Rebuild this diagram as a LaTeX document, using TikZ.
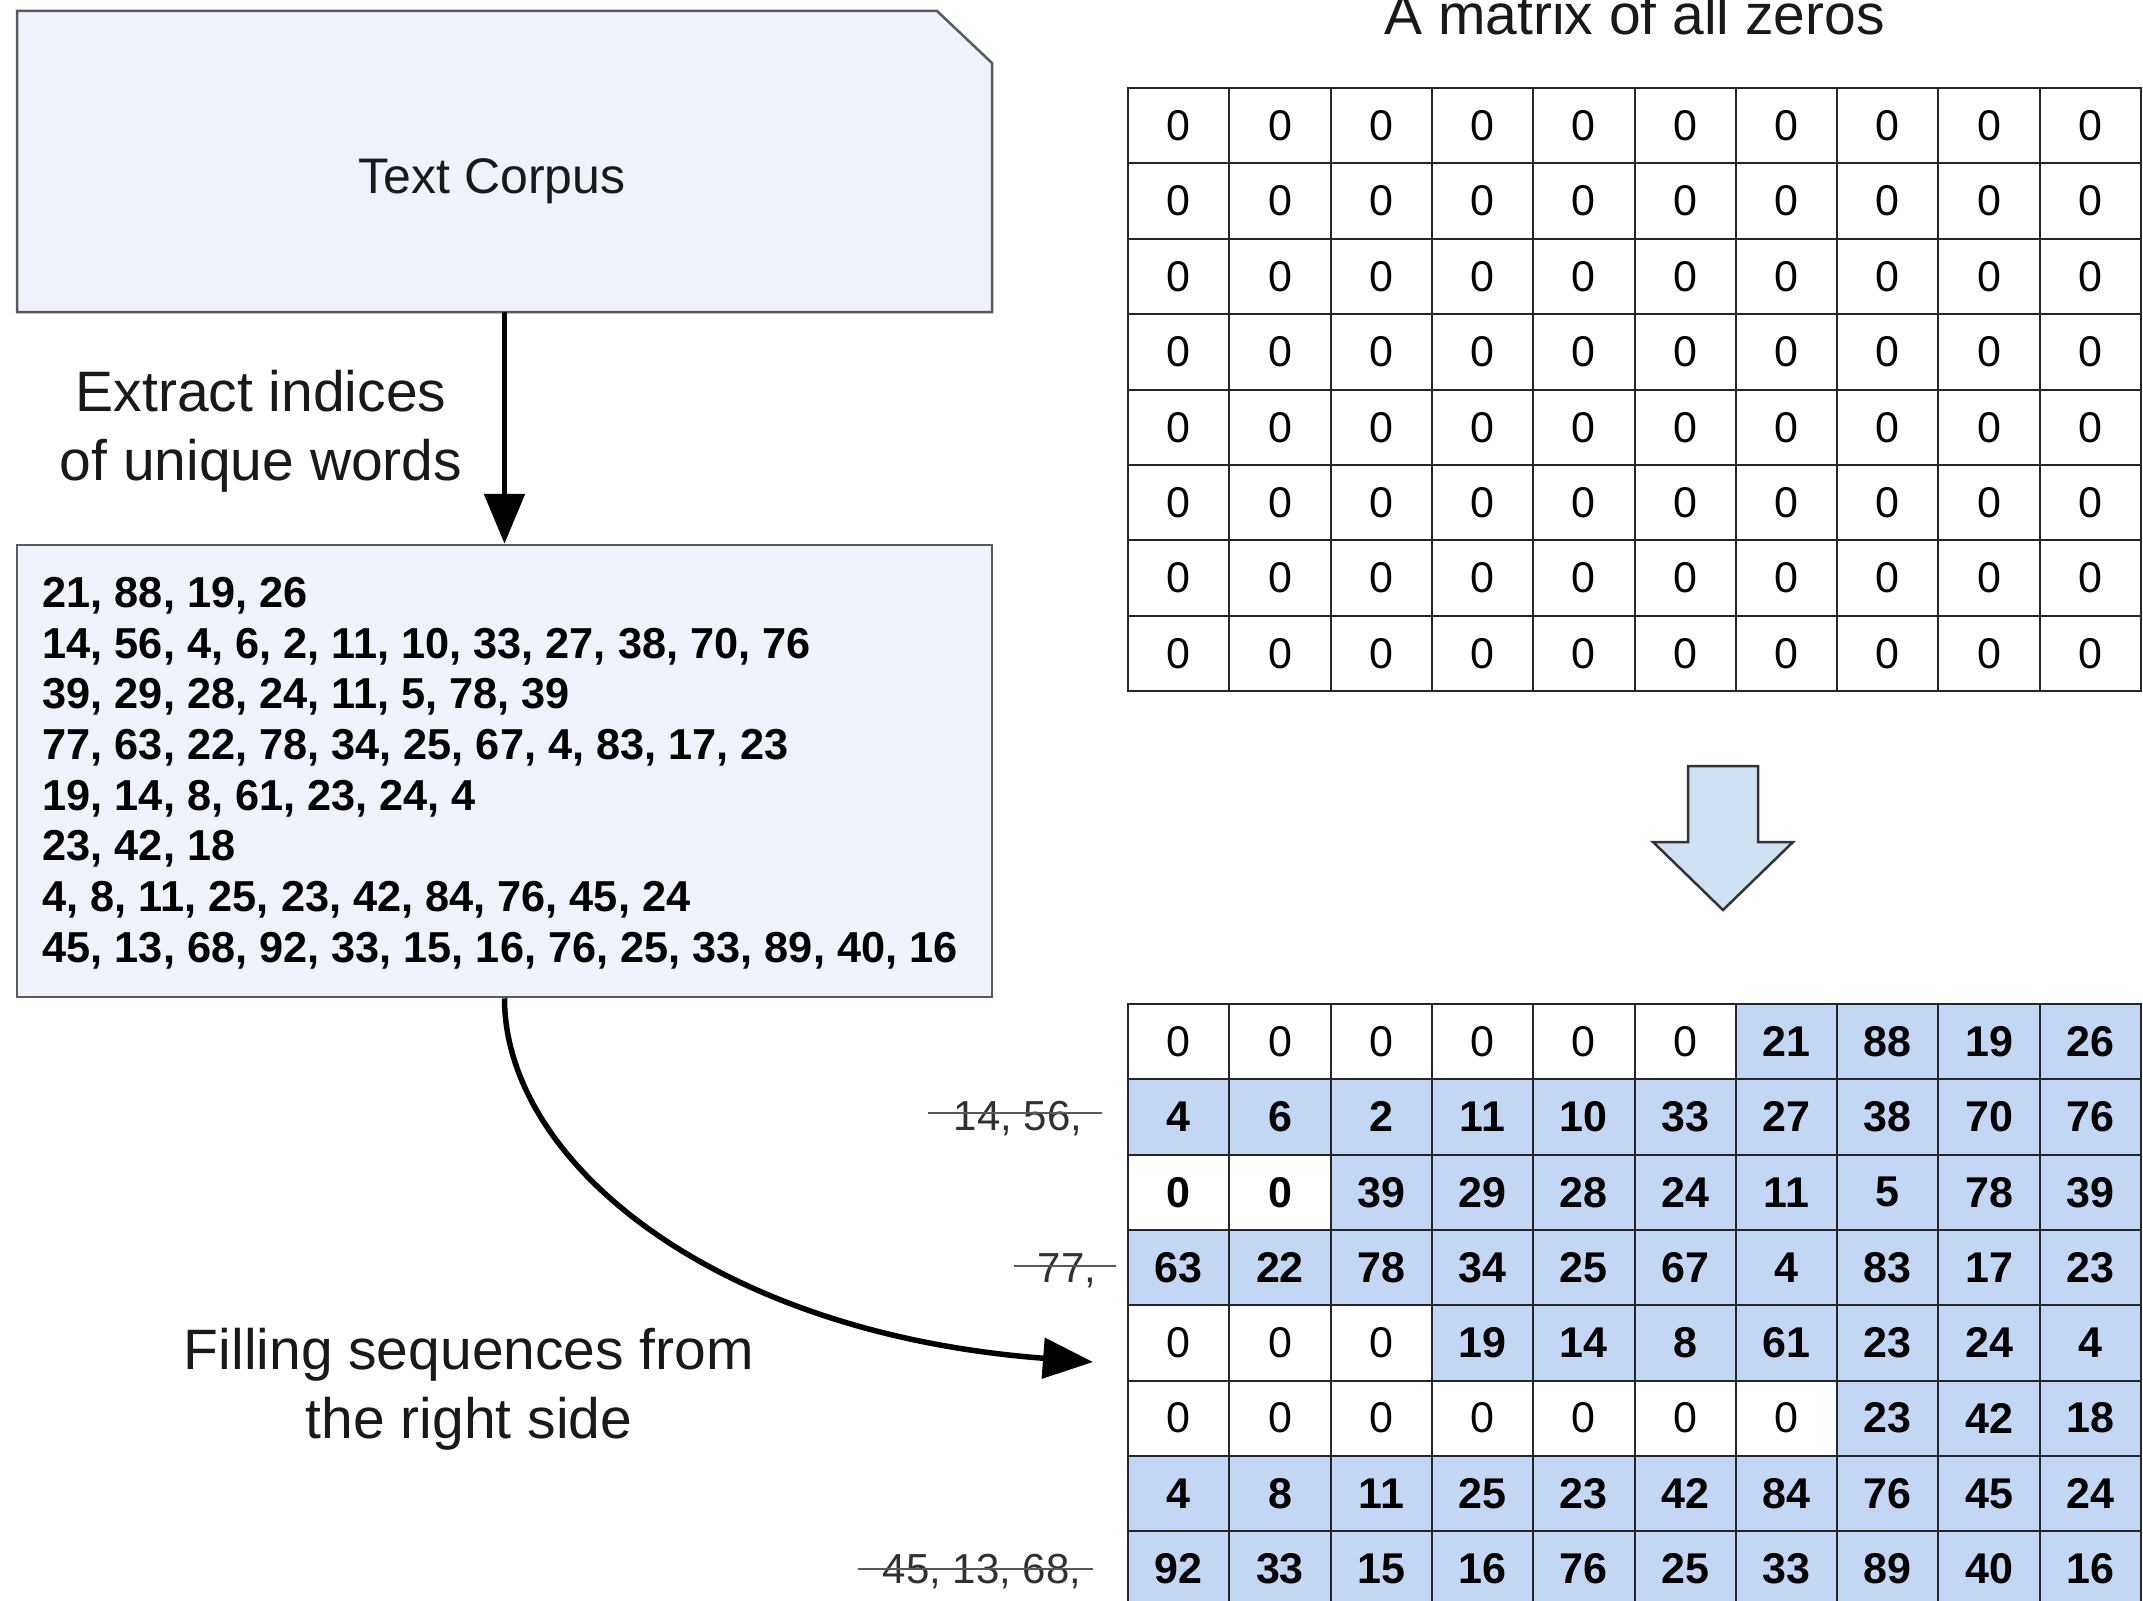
\documentclass[tikz,border=0pt]{standalone}
\usepackage{fontspec}
\setmainfont{Liberation Sans}
\usetikzlibrary{arrows.meta,calc}

\definecolor{boxfill}{HTML}{EEF3FB}
\definecolor{boxline}{HTML}{5A5A5A}
\definecolor{cellblue}{HTML}{C3D6F3}
\definecolor{arrowfill}{HTML}{CFE2F3}
\definecolor{arrowline}{HTML}{333333}
\definecolor{strikegray}{HTML}{303030}

% font of a given size and line spacing (1pt = 1 unit of the picture)
\newcommand\pxfont[2]{\fontsize{#1}{#2}\selectfont}
\def\zchar{z}
\def\Zchar{Z}

\begin{document}
\begin{tikzpicture}[x=1pt,y=-1pt,
  panel/.style={fill=boxfill, draw=boxline, line width=2.5pt},
  caption/.style={font=\pxfont{57}{69}, inner sep=0pt, align=center, text=black!90},
  flow/.style={line width=5.5pt, -{Triangle[length=50pt,width=40pt]}},
  cellbox/.style={draw=black!85, line width=2pt, minimum width=101.3pt,
    minimum height=75.3pt, inner sep=0pt, font=\pxfont{43}{50}},
  filled/.style={cellbox, fill=cellblue, font=\pxfont{43}{50}\bfseries},
  struck/.style={font=\pxfont{42}{50}, text=strikegray, inner sep=0pt, anchor=base},
  strikeline/.style={draw=black!65, line width=2.5pt},
]
\fill[white] (0,0) rectangle (2143,1600);
\useasboundingbox (0,0) rectangle (2143,1600);

% ---- text corpus (card with a cut corner) ----
\path[panel] (17,11) -- (937,11) -- (992,63) -- (992,312) -- (17,312) -- cycle;
\node[inner sep=0pt, minimum width=975pt, minimum height=301pt] (corpus) at (504.5,161.5) {};
\node[font=\pxfont{50}{60}, inner sep=0pt, anchor=base, text=black!90] (corpuslabel) at (492,193) {Text Corpus};

% ---- index sequences ----
\node[panel, inner sep=0pt, minimum width=975pt, minimum height=452pt] (seq) at (504.5,771) {};
\node[font=\pxfont{43.3}{50.7}\bfseries, align=left, anchor=north west, inner sep=0pt] (seqtext) at (42.5,577)
  {21, 88, 19, 26\\
   14, 56, 4, 6, 2, 11, 10, 33, 27, 38, 70, 76\\
   39, 29, 28, 24, 11, 5, 78, 39\\
   77, 63, 22, 78, 34, 25, 67, 4, 83, 17, 23\\
   19, 14, 8, 61, 23, 24, 4\\
   23, 42, 18\\
   4, 8, 11, 25, 23, 42, 84, 76, 45, 24\\
   45, 13, 68, 92, 33, 15, 16, 76, 25, 33, 89, 40, 16};

% ---- connectors ----
\draw[flow] (corpus.south) -- (seq.north);
\coordinate (filltip) at (1093,1362);
\draw[flow] (seq.south) .. controls (504.5,1160) and (711,1333) .. (filltip);

% ---- captions ----
\node[caption, anchor=north] (extractlabel) at (261,370) {Extract indices\\of unique words};
\node[caption, anchor=north] (filllabel) at (469,1328) {Filling sequences from\\the right side};
\node[caption, anchor=base] (zerolabel) at (1634.5,35) {A matrix of all zeros};

% ---- matrix of zeros ----
\foreach \r in {0,...,7}
  \foreach \c in {0,...,9}
    \node[cellbox] (z\r-\c) at ({1128+101.3*(\c+0.5)},{88+75.4*(\r+0.5)}) {0};

% ---- block arrow ----
\path[fill=arrowfill, draw=arrowline, line width=2.5pt, line join=miter]
  (1688,766) -- (1758,766) -- (1758,842) -- (1793,842) -- (1723,910)
  -- (1653,842) -- (1688,842) -- cycle;

% ---- filled matrix: z = plain zero, Z = bold zero, numbers are filled cells ----
\foreach \rowvals [count=\r from 0] in {
  {z,z,z,z,z,z,21,88,19,26},
  {4,6,2,11,10,33,27,38,70,76},
  {Z,Z,39,29,28,24,11,5,78,39},
  {63,22,78,34,25,67,4,83,17,23},
  {z,z,z,19,14,8,61,23,24,4},
  {z,z,z,z,z,z,z,23,42,18},
  {4,8,11,25,23,42,84,76,45,24},
  {92,33,15,16,76,25,33,89,40,16}}{
  \foreach \v [count=\c from 0] in \rowvals {
    \edef\cellv{\v}
    \ifx\cellv\zchar
      \node[cellbox] (f\r-\c) at ({1128+101.3*(\c+0.5)},{1004+75.3*(\r+0.5)}) {0};
    \else\ifx\cellv\Zchar
      \node[cellbox, font=\pxfont{43}{50}\bfseries] (f\r-\c) at ({1128+101.3*(\c+0.5)},{1004+75.3*(\r+0.5)}) {0};
    \else
      \node[filled] (f\r-\c) at ({1128+101.3*(\c+0.5)},{1004+75.3*(\r+0.5)}) {\v};
    \fi\fi
  }
}

% ---- dropped leading indices ----
\node[struck] (drop1) at (1018,1130) {14, 56,};
\draw[strikeline] ($(drop1.base west)+(-26,-17)$) -- ($(drop1.base east)+(20,-17)$);
\node[struck] (drop3) at (1067,1282) {77,};
\draw[strikeline] ($(drop3.base west)+(-24,-16)$) -- ($(drop3.base east)+(20,-16)$);
\node[struck] (drop7) at (982,1583) {45, 13, 68,};
\draw[strikeline] ($(drop7.base west)+(-25,-14)$) -- ($(drop7.base east)+(12,-14)$);
\end{tikzpicture}
\end{document}
